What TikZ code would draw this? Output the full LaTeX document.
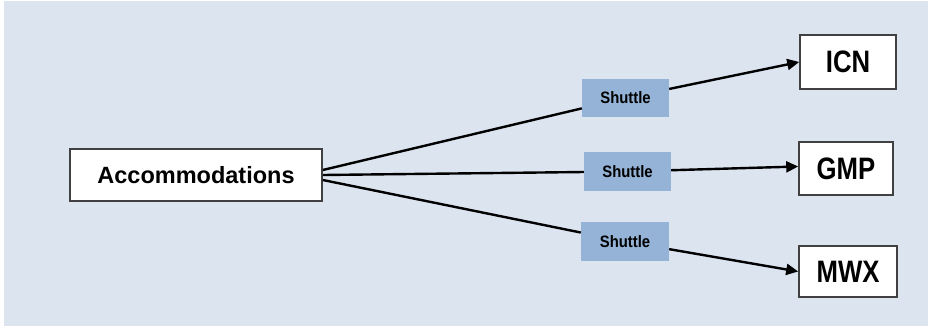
\documentclass[tikz,border=0pt]{standalone}
\usepackage{fontspec}
\setmainfont{Liberation Sans}
\usetikzlibrary{arrows.meta}
\definecolor{bgcol}{HTML}{DCE4F0}
\definecolor{shut}{HTML}{95B3D7}
\definecolor{edgecol}{HTML}{404040}
\tikzset{
  whitebox/.style={draw=edgecol, line width=1.6pt, fill=white, inner sep=0pt, font=\bfseries},
  shuttlebox/.style={fill=shut, inner sep=0pt, minimum width=87pt, minimum height=38pt, font=\bfseries\fontsize{16.5}{18}\selectfont},
  conn/.style={line width=2.4pt, black},
  arr/.style={conn, -{Triangle[length=12pt,width=11pt]}}
}
\begin{document}
\begin{tikzpicture}[x=1pt,y=-1pt]
\useasboundingbox (0,0) rectangle (928,327);
\fill[white] (0,0) rectangle (928,327);
\fill[bgcol] (4,1) rectangle (928,326);
\node[whitebox, minimum width=252pt, minimum height=52pt, font=\bfseries\fontsize{23.5}{27}\selectfont] (acc) at (196,175) {Accommodations};
\node[shuttlebox] (s1) at (625.5,98) {\scalebox{0.9}[1]{Shuttle}};
\node[shuttlebox, minimum height=39pt] (s2) at (627.5,171.5) {\scalebox{0.9}[1]{Shuttle}};
\node[shuttlebox, minimum width=88pt, minimum height=39pt] (s3) at (625,241.5) {\scalebox{0.9}[1]{Shuttle}};
\node[whitebox, minimum width=96pt, minimum height=54pt, font=\bfseries\fontsize{31}{34}\selectfont] (icn) at (848,62) {\scalebox{0.83}[1]{ICN}};
\node[whitebox, minimum width=94pt, minimum height=53pt, font=\bfseries\fontsize{31}{34}\selectfont] (gmp) at (846,168.5) {\scalebox{0.83}[1]{GMP}};
\node[whitebox, minimum width=98pt, minimum height=51pt, font=\bfseries\fontsize{31}{34}\selectfont] (mwx) at (848,271.5) {\scalebox{0.83}[1]{MWX}};
\draw[conn] ([yshift=5pt]acc.east) -- (s1);
\draw[conn] (acc.east) -- (s2);
\draw[conn] ([yshift=-5pt]acc.east) -- (s3);
\draw[arr] (s1) -- (icn.west);
\draw[arr] (s2) -- ([yshift=2pt]gmp.west);
\draw[arr] (s3) -- (mwx.west);
\end{tikzpicture}
\end{document}
